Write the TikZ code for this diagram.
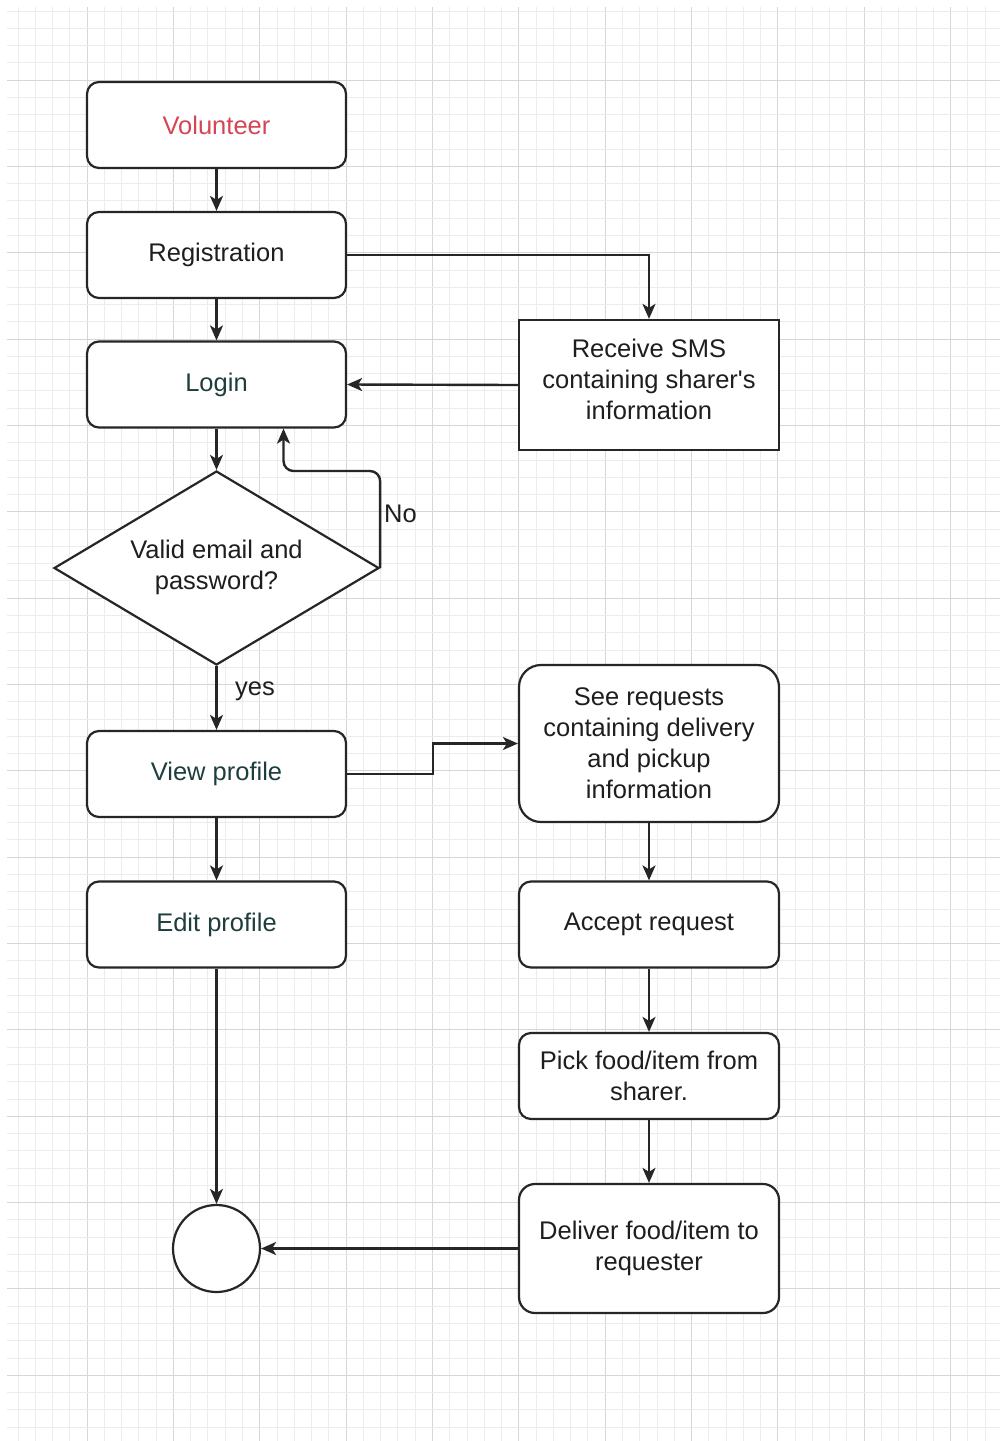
\documentclass[tikz,border=0pt]{standalone}
\usepackage{fontspec}
\setmainfont{Liberation Sans}[Ligatures=TeXOff]
\usetikzlibrary{shapes.geometric,arrows.meta}
\definecolor{gridmajor}{RGB}{214,214,214}
\definecolor{gridminor}{RGB}{236,236,236}
\definecolor{volred}{RGB}{212,70,86}
\definecolor{tealtxt}{RGB}{30,62,62}
\definecolor{darktxt}{RGB}{30,30,30}
\tikzset{
  box/.style={draw=black!85, line width=2.2pt, fill=white, rounded corners=12pt,
    minimum width=259pt, minimum height=86pt, align=center, inner sep=0pt,
    font=\fontsize{25.5}{31}\selectfont, text=darktxt},
  sqbox/.style={box, rounded corners=0pt},
  conn/.style={line width=2.4pt, draw=black!85, -{Stealth[length=15pt,width=13pt,inset=4pt]}},
  lbl/.style={font=\fontsize{25.5}{31}\selectfont, text=darktxt, inner sep=0pt}
}
\begin{document}
\begin{tikzpicture}[x=1pt,y=-1pt]
\useasboundingbox (0,0) rectangle (1000,1441);
\fill[white] (0,0) rectangle (1000,1441);
% grid
\foreach \i in {-4,...,52}{
  \pgfmathsetmacro{\xx}{87+17.27*\i}
  \pgfmathtruncatemacro{\mm}{mod(\i+100,5)}
  \ifnum\mm=0
    \draw[gridmajor, line width=1pt] (\xx,7) -- (\xx,1441);
  \else
    \draw[gridminor, line width=0.8pt] (\xx,7) -- (\xx,1441);
  \fi
}
\foreach \j in {-4,...,78}{
  \pgfmathsetmacro{\yy}{80+17.27*\j}
  \pgfmathtruncatemacro{\mm}{mod(\j+100,5)}
  \ifnum\mm=0
    \draw[gridmajor, line width=1pt] (7,\yy) -- (1000,\yy);
  \else
    \draw[gridminor, line width=0.8pt] (7,\yy) -- (1000,\yy);
  \fi
}
% nodes
\node[box, text=volred] (vol) at (216.5,125) {Volunteer};
\node[box] (reg) at (216.5,255) {Registration};
\node[box, text=tealtxt] (login) at (216.5,384.5) {Login};
\node[diamond, draw=black!85, line width=2.2pt, fill=white, aspect=1.675,
  minimum width=325pt, minimum height=194pt, inner sep=0pt, align=center,
  font=\fontsize{25.5}{31}\selectfont, text=darktxt] (dia) at (216.5,568) {Valid email and\\password?\\[-25pt]};
\node[box, text=tealtxt] (view) at (216.5,774) {View profile};
\node[box, text=tealtxt] (edit) at (216.5,924.5) {Edit profile};
\node[circle, draw=black!85, line width=2.2pt, fill=white, minimum size=87pt, inner sep=0pt] (end) at (216.5,1248.5) {};
\node[sqbox, minimum width=260pt, minimum height=130pt] (sms) at (649,385) {Receive SMS\\containing sharer's\\information\\[-19pt]};
\node[box, minimum width=260pt, minimum height=157pt, rounded corners=22pt] (see) at (649,743.5) {See requests\\containing delivery\\and pickup\\information};
\node[box, minimum width=260pt] (acc) at (649,924.5) {Accept request};
\node[box, minimum width=260pt] (pick) at (649,1076) {Pick food/item from\\sharer.};
\node[box, minimum width=260pt, minimum height=129pt, rounded corners=16pt] (del) at (649,1248.5) {Deliver food/item to\\requester};
% connectors
\draw[conn] (vol) -- (reg);
\draw[conn] (reg) -- (login);
\draw[conn] (reg.east) -| (sms.north);
\draw[conn] (sms.west) -- (login.east);
\draw[conn] (login) -- (dia.north);
\draw[conn, rounded corners=10pt] (dia.east) -- ++(0,-97) -| ([xshift=67pt]login.south);
\node[lbl, anchor=west] (nolbl) at (384,514) {No};
\draw[conn] (dia.south) -- (view.north);
\node[lbl, anchor=west] (yeslbl) at (235,691) {yes};
\draw[conn] (view.east) -- ++(86,0) |- (see.west);
\draw[conn] (view) -- (edit);
\draw[conn] (edit) -- (end.north);
\draw[conn] (see) -- (acc);
\draw[conn] (acc) -- (pick);
\draw[conn] (pick) -- (del);
\draw[conn] (del.west) -- (end.east);
\end{tikzpicture}
\end{document}
